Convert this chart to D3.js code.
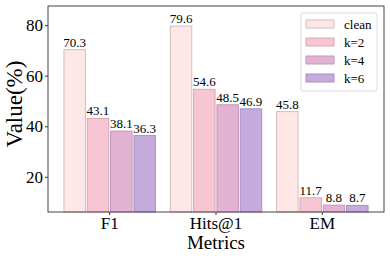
<!DOCTYPE html>
<html>
<head>
<meta charset="utf-8">
<script src="https://cdn.jsdelivr.net/npm/d3@7"></script>
</head>
<body style="margin:0;background:#fff">
<div id="chart"></div>
<script>
// data
const metrics = ["F1", "Hits@1", "EM"];
const series = ["clean", "k=2", "k=4", "k=6"];
const clean = [70.3, 79.6, 45.8];
const k2 = [43.1, 54.6, 11.7];
const k4 = [38.1, 48.5, 8.8];
const k6 = [36.3, 46.9, 8.7];
const yTicks = [20, 40, 60, 80];

const values = [clean, k2, k4, k6];
const fills = ["#fde7e7", "#f8c6d3", "#e2b3d2", "#c5aadd"];
const strokes = ["#d9bcbc", "#dca7b6", "#c49ab6", "#a892c2"];
const FONT = "Liberation Serif";

const width = 390, height = 260;
const margin = {top: 6, right: 6, bottom: 48, left: 48};

const svg = d3.select("#chart").append("svg")
    .attr("width", width)
    .attr("height", height)
    .attr("font-family", FONT)
    .style("display", "block");

const x0 = d3.scaleBand()
    .domain(metrics)
    .range([margin.left, width - margin.right])
    .paddingInner(0.14)
    .paddingOuter(0.15);

const x1 = d3.scaleBand()
    .domain(series)
    .range([0, x0.bandwidth()])
    .paddingInner(0.08);

const allVals = values.flat();
const y = d3.scaleLinear()
    .domain([d3.min(allVals) * 0.7, d3.max(allVals) * 1.1])
    .range([height - margin.bottom, margin.top]);

// bars
const groups = svg.append("g").selectAll("g")
    .data(metrics)
    .join("g")
    .attr("transform", d => "translate(" + x0(d) + ",0)");

groups.selectAll("rect")
    .data((m, mi) => series.map((s, si) => ({s: s, si: si, v: values[si][mi]})))
    .join("rect")
    .attr("x", d => x1(d.s))
    .attr("y", d => y(d.v))
    .attr("width", x1.bandwidth())
    .attr("height", d => y.range()[0] - y(d.v))
    .attr("fill", d => fills[d.si])
    .attr("stroke", d => strokes[d.si])
    .attr("stroke-width", 1);

groups.selectAll("text")
    .data((m, mi) => series.map((s, si) => ({s: s, si: si, v: values[si][mi]})))
    .join("text")
    .attr("x", d => x1(d.s) + x1.bandwidth() / 2)
    .attr("y", d => y(d.v) - 3)
    .attr("text-anchor", "middle")
    .attr("font-size", 13)
    .attr("font-family", FONT)
    .attr("fill", "#000")
    .text(d => d.v.toFixed(1));

// axes
const yAxis = d3.axisLeft(y).tickValues(yTicks).tickSize(3).tickPadding(2);
const xAxis = d3.axisBottom(x0).tickSize(3).tickPadding(2);

const gy = svg.append("g")
    .attr("transform", "translate(" + margin.left + ",0)")
    .call(yAxis)
    .attr("font-family", FONT);
gy.select(".domain").remove();
gy.selectAll("text").attr("font-size", 17).attr("fill", "#000");
gy.selectAll("line").attr("stroke", "#333");

const gx = svg.append("g")
    .attr("transform", "translate(0," + (height - margin.bottom) + ")")
    .call(xAxis)
    .attr("font-family", FONT);
gx.select(".domain").remove();
gx.selectAll("text").attr("font-size", 17).attr("fill", "#000");
gx.selectAll("line").attr("stroke", "#333");

// frame
svg.append("rect")
    .attr("x", margin.left)
    .attr("y", margin.top)
    .attr("width", width - margin.left - margin.right)
    .attr("height", height - margin.top - margin.bottom)
    .attr("fill", "none")
    .attr("stroke", "#444")
    .attr("stroke-width", 1);

// axis titles
svg.append("text")
    .attr("transform", "translate(22,104) rotate(-90)")
    .attr("text-anchor", "middle")
    .attr("font-size", 23)
    .text("Value(%)");

svg.append("text")
    .attr("x", x0("Hits@1") + x0.bandwidth() / 2)
    .attr("y", 249)
    .attr("text-anchor", "middle")
    .attr("font-size", 19)
    .text("Metrics");

// legend
const legend = svg.append("g").attr("transform", "translate(301,13)");
legend.append("rect")
    .attr("width", 76)
    .attr("height", 78)
    .attr("rx", 2)
    .attr("fill", "#fff")
    .attr("stroke", "#ddd");

const items = legend.selectAll("g.item")
    .data(series)
    .join("g")
    .attr("class", "item")
    .attr("transform", (d, i) => "translate(0," + (11 + i * 18) + ")");

items.append("rect")
    .attr("x", 5)
    .attr("y", -4)
    .attr("width", 28)
    .attr("height", 8)
    .attr("fill", (d, i) => fills[i])
    .attr("stroke", (d, i) => strokes[i]);

items.append("text")
    .attr("x", 43)
    .attr("y", 4.5)
    .attr("font-size", 13)
    .text(d => d);
</script>
</body>
</html>
